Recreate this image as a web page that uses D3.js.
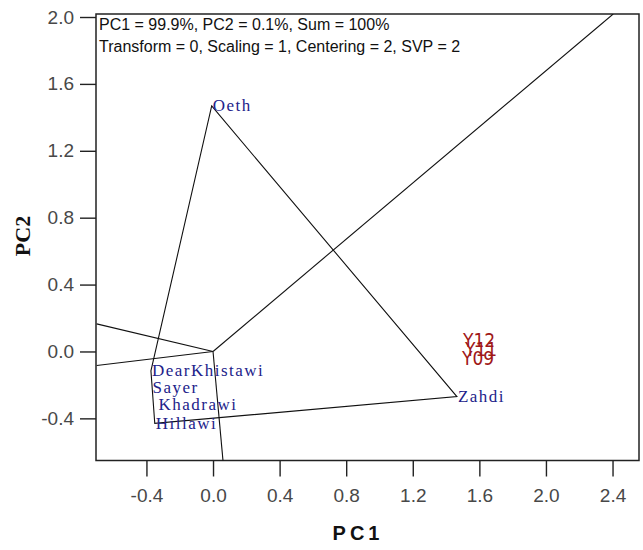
<!DOCTYPE html>
<html>
<head>
<meta charset="utf-8">
<script src="https://cdn.jsdelivr.net/npm/d3@7"></script>
<style>
  body { margin: 0; background: #fff; }
  svg { display: block; }
</style>
</head>
<body>
<div id="chart"></div>
<script>
// GGE biplot (polygon view) data
var genoNames = ["Oeth", "Zahdi", "Hillawi", "DearKhistawi", "Sayer", "Khadrawi"];
var genoPC1   = [-0.008, 1.465, -0.350, -0.373, -0.370, -0.334];
var genoPC2   = [ 1.468, -0.270, -0.430, -0.116, -0.218, -0.319];

// polygon vertices (index into genotypes), in drawing order
var hullOrder = [0, 1, 2, 3];

// environments
var envNames = ["Y12", "Y11", "Y09"];
var envPC1   = [1.502, 1.514, 1.496];
var envPC2   = [0.069, 0.016, -0.038];

// rays from the origin, perpendicular to the polygon sides
var rayPC1 = [2.404, -0.699, -0.699, 0.060];
var rayPC2 = [2.018, 0.165, -0.084, -0.654];

var xTicks = [-0.4, 0.0, 0.4, 0.8, 1.2, 1.6, 2.0, 2.4];
var yTicks = [-0.4, 0.0, 0.4, 0.8, 1.2, 1.6, 2.0];

var infoLines = [
    "PC1 = 99.9%, PC2 = 0.1%, Sum = 100%",
    "Transform = 0, Scaling = 1, Centering = 2, SVP = 2"
];

var width = 643, height = 550;
var plotL = 96, plotR = 639, plotT = 14, plotB = 460.5;

var svg = d3.select("#chart").append("svg")
    .attr("width", width)
    .attr("height", height);

var x = d3.scaleLinear().domain([-0.703, 2.559]).range([plotL, plotR]);
var y = d3.scaleLinear().domain([-0.652, 2.018]).range([plotB, plotT]);

svg.append("defs").append("clipPath")
    .attr("id", "plotClip")
  .append("rect")
    .attr("x", plotL).attr("y", plotT)
    .attr("width", plotR - plotL).attr("height", plotB - plotT);

// Axes (plain hyphen for the minus, like the original)
var fmt = function (d) { return d3.format(".1f")(d).replace("\u2212", "-"); };
var xAxis = svg.append("g")
    .attr("transform", "translate(0," + plotB + ")")
    .call(d3.axisBottom(x).tickValues(xTicks).tickFormat(fmt).tickSize(16).tickPadding(12));
var yAxis = svg.append("g")
    .attr("transform", "translate(" + plotL + ",0)")
    .call(d3.axisLeft(y).tickValues(yTicks).tickFormat(fmt).tickSize(16).tickPadding(6));

[xAxis, yAxis].forEach(function (a) {
    a.select(".domain").remove();
    a.selectAll(".tick line").attr("stroke", "#222").attr("stroke-width", 1.4);
    a.selectAll(".tick text")
        .attr("fill", "#484848")
        .style("font-family", "Arial, 'Liberation Sans', sans-serif")
        .style("font-size", "19px");
});

// Frame
svg.append("rect")
    .attr("x", plotL).attr("y", plotT)
    .attr("width", plotR - plotL).attr("height", plotB - plotT)
    .attr("fill", "none")
    .attr("stroke", "#222")
    .attr("stroke-width", 1.5);

var plot = svg.append("g").attr("clip-path", "url(#plotClip)");

// Rays
plot.selectAll(".ray").data(rayPC1).enter()
    .append("line")
    .attr("class", "ray")
    .attr("x1", x(0)).attr("y1", y(0))
    .attr("x2", function (d) { return x(d); })
    .attr("y2", function (d, i) { return y(rayPC2[i]); })
    .attr("stroke", "#111")
    .attr("stroke-width", 1.1);

// Polygon
var hull = hullOrder.map(function (i) { return [x(genoPC1[i]), y(genoPC2[i])]; });
plot.append("path")
    .attr("d", d3.line()(hull) + "Z")
    .attr("fill", "none")
    .attr("stroke", "#111")
    .attr("stroke-width", 1.1);

// Genotype labels
plot.selectAll(".geno").data(genoNames).enter()
    .append("text")
    .attr("class", "geno")
    .attr("x", function (d, i) { return x(genoPC1[i]) + 1; })
    .attr("y", function (d, i) { return y(genoPC2[i]); })
    .attr("dominant-baseline", "central")
    .attr("fill", "#22228a")
    .style("font-family", "'Liberation Serif', 'Times New Roman', serif")
    .style("font-size", "17px")
    .style("letter-spacing", "1.5px")
    .text(function (d) { return d; });

// Environment labels
plot.selectAll(".env").data(envNames).enter()
    .append("text")
    .attr("class", "env")
    .attr("x", function (d, i) { return x(envPC1[i]); })
    .attr("y", function (d, i) { return y(envPC2[i]); })
    .attr("dominant-baseline", "central")
    .attr("fill", "#a01818")
    .style("font-family", "'Liberation Sans Narrow', 'DejaVu Sans Condensed', sans-serif")
    .style("font-stretch", "condensed")
    .style("font-size", "19px")
    .text(function (d) { return d; });

// Info text in the corner
svg.selectAll(".info").data(infoLines).enter()
    .append("text")
    .attr("class", "info")
    .attr("x", plotL + 3)
    .attr("y", function (d, i) { return 30 + i * 22; })
    .attr("fill", "#111")
    .style("font-family", "Arial, 'Liberation Sans', sans-serif")
    .style("font-size", "16px")
    .text(function (d) { return d; });

// Axis titles
svg.append("text")
    .attr("x", 358).attr("y", 540)
    .attr("text-anchor", "middle")
    .attr("fill", "#111")
    .style("font-family", "Arial, 'Liberation Sans', sans-serif")
    .style("font-weight", "bold")
    .style("font-size", "20px")
    .style("letter-spacing", "4px")
    .text("PC1");

svg.append("text")
    .attr("transform", "translate(30,236) rotate(-90)")
    .attr("text-anchor", "middle")
    .attr("fill", "#111")
    .style("font-family", "'Liberation Serif', 'Times New Roman', serif")
    .style("font-weight", "bold")
    .style("font-size", "22px")
    .text("PC2");
</script>
</body>
</html>
